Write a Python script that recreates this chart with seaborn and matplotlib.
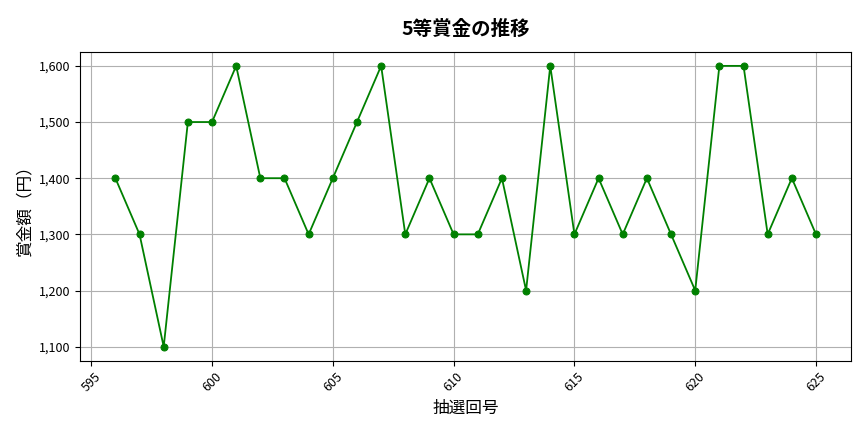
import matplotlib
matplotlib.use("Agg")
import matplotlib.pyplot as plt
import matplotlib.ticker as mticker
import pandas as pd
import seaborn as sns

sns.set_style("ticks", {"axes.edgecolor": "black", "text.color": "black",
                        "axes.labelcolor": "black", "xtick.color": "black",
                        "ytick.color": "black"})
plt.rcParams["font.family"] = ["Noto Sans CJK JP", "DejaVu Sans"]

draws = list(range(596, 626))
prizes = [1400, 1300, 1100, 1500, 1500, 1600, 1400, 1400, 1300, 1400,
          1500, 1600, 1300, 1400, 1300, 1300, 1400, 1200, 1600, 1300,
          1400, 1300, 1400, 1300, 1200, 1600, 1600, 1300, 1400, 1300]

df = pd.DataFrame({"draw": draws, "prize": prizes})

fig, ax = plt.subplots(figsize=(8.64, 4.32), dpi=100)
sns.lineplot(data=df, x="draw", y="prize", ax=ax, color="green",
             marker="o", markersize=5, markeredgecolor="green", linewidth=1.3)

ax.set_title("5等賞金の推移", fontsize=14, fontweight="bold", pad=12)
ax.set_xlabel("抽選回号", fontsize=12)
ax.set_ylabel("賞金額（円）", fontsize=12)
ax.yaxis.set_major_formatter(mticker.FuncFormatter(lambda v, p: f"{int(v):,}"))
ax.xaxis.set_major_locator(mticker.MultipleLocator(5))
ax.tick_params(axis="x", labelrotation=45, labelsize=9, length=3.5, width=0.8)
ax.tick_params(axis="y", labelsize=9, length=3.5, width=0.8)
ax.grid(True, color="#b0b0b0", linewidth=0.8)
for s in ax.spines.values():
    s.set_color("black")
    s.set_linewidth(0.8)

fig.subplots_adjust(left=0.093, right=0.985, top=0.88, bottom=0.165)
fig.savefig("out.png", dpi=100)
